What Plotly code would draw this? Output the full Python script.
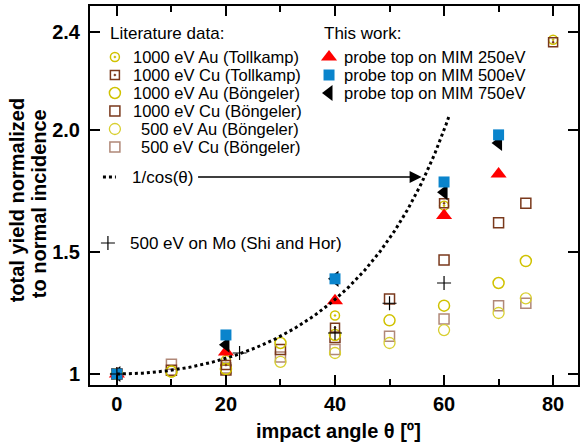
import numpy as np
import plotly.graph_objects as go

# ---------------- data ----------------
# Böngeler (1000 eV and 500 eV, Au and Cu)
ang_b = [0, 10, 20, 30, 40, 50, 60, 70, 75]
au1000_b = [1.0, 1.01, 1.02, 1.127, 1.16, 1.22, 1.28, 1.373, 1.463]
cu1000_b = [1.0, 1.015, 1.016, 1.10, 1.15, 1.307, 1.467, 1.62, 1.70]
au500_b = [1.0, 1.01, 1.02, 1.05, 1.086, 1.127, 1.18, 1.25, 1.31]
cu500_b = [1.0, 1.04, 1.025, 1.07, 1.10, 1.155, 1.225, 1.28, 1.29]

# Tollkamp (1000 eV)
ang_t = [0, 20, 40, 60, 80]
au1000_t = [1.0, 1.057, 1.24, 1.69, 2.37]
cu1000_t = [1.0, 1.037, 1.19, 1.70, 2.36]

# This work
ang_w = [0, 20, 40, 60, 70]
mim250 = [1.0, 1.09, 1.30, 1.65, 1.82]
mim500 = [1.0, 1.16, 1.39, 1.787, 1.98]
mim750 = [1.0, 1.12, 1.39, 1.745, 1.947]

# Shi and Hor, 500 eV on Mo
ang_mo = [0, 22.5, 40, 50, 60]
mo500 = [1.0, 1.086, 1.168, 1.29, 1.373]

# 1/cos(theta) reference curve
theta_max = 61
x_ticks = [0, 20, 40, 60, 80]
y_ticks = [1, 1.5, 2.0, 2.4]
y_ticktext = ["1", "1.5", "2.0", "2.4"]

# ---------------- styles ----------------
FONT = "Liberation Sans, Arial, Helvetica, sans-serif"
YEL = "#d0c200"
YEL2 = "#d8cf30"
BRN = "#7a391c"
BRN2 = "#b08878"
RED = "#ff0000"
BLUE = "#0a84cc"

st_au_t = dict(symbol="circle-open-dot", size=9, color=YEL, line=dict(width=1.5, color=YEL))
st_cu_t = dict(symbol="square-open-dot", size=9, color=BRN, line=dict(width=1.5, color=BRN))
st_au_b = dict(symbol="circle-open", size=11, color=YEL, line=dict(width=1.5, color=YEL))
st_cu_b = dict(symbol="square-open", size=10, color=BRN, line=dict(width=1.5, color=BRN))
st_au_5 = dict(symbol="circle-open", size=11, color=YEL2, line=dict(width=1.3, color=YEL2))
st_cu_5 = dict(symbol="square-open", size=10, color=BRN2, line=dict(width=1.5, color=BRN2))
st_250 = dict(symbol="triangle-up", size=14, color=RED, line=dict(width=0))
st_500 = dict(symbol="square", size=11, color=BLUE, line=dict(width=0))
st_750 = dict(symbol="triangle-left", size=14, color="black", line=dict(width=0))
st_mo = dict(symbol="cross-thin-open", size=10, color="black", line=dict(width=1.2, color="black"))

fig = go.Figure()

def add(x, y, st, xa="x", ya="y"):
    fig.add_trace(go.Scatter(x=x, y=y, mode="markers", marker=st, showlegend=False,
                             xaxis=xa, yaxis=ya, hoverinfo="skip"))

# literature
add(ang_b, cu500_b, st_cu_5)
add(ang_b, au500_b, st_au_5)
add(ang_b, cu1000_b, st_cu_b)
add(ang_b, au1000_b, st_au_b)
add(ang_t, au1000_t, st_au_t)
add(ang_t, cu1000_t, st_cu_t)
# this work
add(ang_w, mim250, st_250)
add(ang_w, mim750, st_750)
add(ang_w, mim500, st_500)
# 1/cos curve
th = np.linspace(0, theta_max, 300)
fig.add_trace(go.Scatter(x=th, y=1 / np.cos(np.radians(th)), mode="lines",
                         line=dict(color="black", width=3, dash="3px,3px"),
                         showlegend=False, hoverinfo="skip"))
add(ang_mo, mo500, st_mo)

# ---------------- legend (pixel overlay axes) ----------------
L, R, T, B = 90, 580, 6, 385
lit_styles = [st_au_t, st_cu_t, st_au_b, st_cu_b, st_au_5, st_cu_5]
lit_labels = ["1000 eV Au (Tollkamp)", "1000 eV Cu (Tollkamp)", "1000 eV Au (Böngeler)",
              "1000 eV Cu (Böngeler)", "500 eV Au (Böngeler)", "500 eV Cu (Böngeler)"]
work_styles = [st_250, st_500, st_750]
work_labels = ["probe top on MIM 250eV", "probe top on MIM 500eV", "probe top on MIM 750eV"]
row0, drow = 57, 18

annots = []
def txt(x, y, s, size=17, bold=False, xanchor="left", angle=0, xref="x2", yref="y2"):
    annots.append(dict(x=x, y=y, xref=xref, yref=yref, text=("<b>%s</b>" % s) if bold else s,
                       showarrow=False, xanchor=xanchor, yanchor="middle", textangle=angle,
                       font=dict(family=FONT, size=size, color="black")))

txt(108, 33, "Literature data:")
for i, (st, lab) in enumerate(zip(lit_styles, lit_labels)):
    yy = row0 + i * drow
    add([115], [yy], st, "x2", "y2")
    txt(139 if lab.startswith("500") else 131, yy, lab, size=16.5)

txt(323, 33, "This work:")
for i, (st, lab) in enumerate(zip(work_styles, work_labels)):
    yy = row0 + i * drow
    add([330], [yy], st, "x2", "y2")
    txt(343, yy, lab, size=16.5)

fig.add_trace(go.Scatter(x=[103, 116], y=[177, 177], mode="lines", xaxis="x2", yaxis="y2",
                         line=dict(color="black", width=3, dash="3px,3px"), showlegend=False,
                         hoverinfo="skip"))
txt(130, 177, "1/cos(θ)")
annots.append(dict(x=423, y=177, xref="x2", yref="y2", ax=197, ay=177, axref="x2", ayref="y2",
                   text="", showarrow=True, arrowhead=2, arrowsize=1.6, arrowwidth=1.5,
                   arrowcolor="black", standoff=0))
add([108], [243], st_mo, "x2", "y2")
txt(128, 243, "500 eV on Mo (Shi and Hor)")

# axis titles
def px2p(px): return (px - L) / (R - L)
def py2p(py): return (B - py) / (B - T)
txt(px2p(17), py2p(200), "total yield normalized", size=20, bold=True, xanchor="center",
    angle=-90, xref="paper", yref="paper")
txt(px2p(39), py2p(204), "to normal incidence", size=20, bold=True, xanchor="center",
    angle=-90, xref="paper", yref="paper")
txt(px2p(340), py2p(431), "impact angle θ [º]", size=20, bold=True, xanchor="center",
    xref="paper", yref="paper")

axis_common = dict(showline=True, linewidth=2, linecolor="black", mirror="ticks",
                   ticks="inside", ticklen=10, tickwidth=2, tickcolor="black",
                   showgrid=False, zeroline=False,
                   tickfont=dict(family=FONT, size=20, color="black", weight="bold"))

x0 = -(117 - L) / 5.475
x1 = (R - 117) / 5.475
y0 = 1 - (B - 374) / 244
y1 = 1 + (374 - T) / 244

fig.update_layout(
    width=582, height=444, margin=dict(l=L, r=582 - R, t=T, b=444 - B),
    paper_bgcolor="white", plot_bgcolor="white",
    xaxis=dict(range=[x0, x1], tickvals=x_ticks,
               minor=dict(dtick=10, ticks="inside", ticklen=6, tickwidth=2, tickcolor="black"),
               **axis_common),
    yaxis=dict(range=[y0, y1], tickvals=y_ticks, ticktext=y_ticktext, ticklabelstandoff=4,
               **axis_common),
    xaxis2=dict(overlaying="x", range=[L, R], visible=False, anchor="y2"),
    yaxis2=dict(overlaying="y", range=[B, T], visible=False, anchor="x2"),
    annotations=annots,
    showlegend=False,
)

fig.write_html("out.html")
